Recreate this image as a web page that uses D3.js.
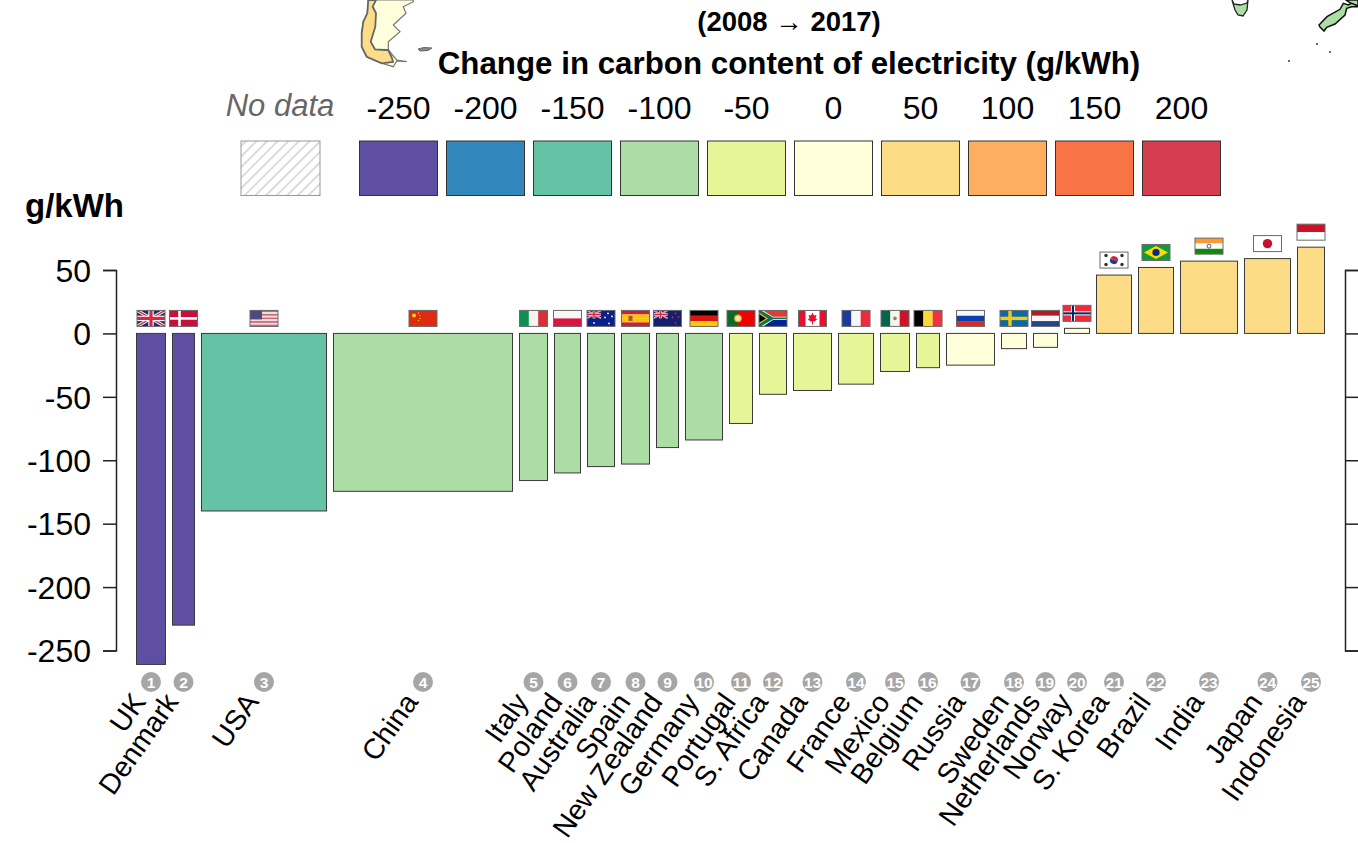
<!DOCTYPE html>
<html><head><meta charset="utf-8">
<script src="https://cdn.jsdelivr.net/npm/d3@7"></script>
<style>html,body{margin:0;background:#fff}svg{display:block}text{font-family:"Liberation Sans",Arial,sans-serif}</style>
</head><body><div id="c"></div>
<script>
const countries=["UK","Denmark","USA","China","Italy","Poland","Australia","Spain","New Zealand","Germany","Portugal","S. Africa","Canada","France","Mexico","Belgium","Russia","Sweden","Netherlands","Norway","S. Korea","Brazil","India","Japan","Indonesia"];
const changes=[-261,-230,-140,-124.5,-116,-110,-105,-103,-90,-84,-71,-48,-45,-40,-30,-27,-25,-12,-11,4,46,52,57,59,68];
const widths=[29,22,125,179,28,26,27,28,22,37,23,27,38,35,29,23,48,25,24,25,35,35,57,46,27];
const gapUnits=7;
const legendValues=[-250,-200,-150,-100,-50,0,50,100,150,200];
const legendColors=["#5e4fa2","#3288bd","#66c2a5","#abdda4","#e6f598","#ffffdc","#fddc87","#fdae61","#f87444","#d53e4f"];
const colorBreaks=[-225,-175,-125,-75,-25,25,75,125,175];
const yTicks=[50,0,-50,-100,-150,-200,-250];
const patagonia=[[368.3,0],[367.3,13.3],[363.3,21.7],[361.7,33.3],[361.7,46.7],[366.7,56.7],[381.7,63.3],[393.3,66.7],[396.7,61],[406.7,61.7],[396.7,60],[388.3,50],[388.3,41.7],[400,31.7],[393.3,25],[406,13.3],[403.3,6.7],[413.3,1.7],[413.3,0]];
const chile=[[368.3,0],[376,0],[372.7,6.7],[376,13.3],[375.3,26.7],[370.7,41.7],[375,49.3],[385,50],[388.3,50],[392,58],[393,62],[381.7,63.3],[366.7,56.7],[361.7,46.7],[361.7,33.3],[363.3,21.7],[367.3,13.3]];
const falklands=[[418,49],[424,47.5],[432,48],[428,50.5],[420,51]];
const tasmania=[[1232,0],[1234,4],[1240,5],[1247,3],[1248,0],[1247,10],[1243,16],[1238,15],[1235,10]];
const nzSouth=[[1319,25],[1327,16.7],[1340,9.3],[1343.3,3.3],[1348.3,5],[1351.7,3.3],[1358,6],[1358,6.7],[1351.7,6.7],[1346.7,8.3],[1345,15],[1335,24],[1326.7,27.3],[1324,31],[1320,27]];
const nzNorth=[[1346,0],[1358,0],[1358,6],[1352,4]];
const islets=[[1317,44],[1330,52],[1289,61]];

const W=1358,H=843;
const svg=d3.select("#c").append("svg").attr("width",W).attr("height",H).attr("viewBox",[0,0,W,H]);

// map fragments
const line=d3.line().curve(d3.curveLinearClosed);
svg.append("path").attr("d",line(patagonia)).attr("fill","#ffffdc").attr("stroke","#777").attr("stroke-width",1.2);
svg.append("path").attr("d",line(chile)).attr("fill","#fddc87").attr("stroke","#666").attr("stroke-width",1.8);
svg.append("path").attr("d",line(falklands)).attr("fill","#888").attr("stroke","#666").attr("stroke-width",1);
svg.append("path").attr("d",line(tasmania)).attr("fill","#abdda4").attr("stroke","#222").attr("stroke-width",1.3);
svg.append("path").attr("d",line(nzNorth)).attr("fill","#abdda4").attr("stroke","#111").attr("stroke-width",1.5);
svg.append("path").attr("d",line(nzSouth)).attr("fill","#abdda4").attr("stroke","#111").attr("stroke-width",1.5);
svg.selectAll(".islet").data(islets).join("circle").attr("class","islet").attr("cx",d=>d[0]).attr("cy",d=>d[1]).attr("r",.9).attr("fill","#222");

// titles
svg.append("text").attr("x",789).attr("y",31).attr("text-anchor","middle").attr("font-weight","bold").attr("font-size",27.5).text("(2008 → 2017)");
svg.append("text").attr("x",789).attr("y",74).attr("text-anchor","middle").attr("font-weight","bold").attr("font-size",31.3).text("Change in carbon content of electricity (g/kWh)");
svg.append("text").attr("x",25).attr("y",217).attr("font-weight","bold").attr("font-size",33).text("g/kWh");

// legend
const defs=svg.append("defs");
const hatch=defs.append("pattern").attr("id","hatch").attr("patternUnits","userSpaceOnUse").attr("width",7.5).attr("height",7.5).attr("patternTransform","rotate(-45)");
hatch.append("line").attr("x1",0).attr("x2",7.5).attr("y1",3.7).attr("y2",3.7).attr("stroke","#c4c4c4").attr("stroke-width",1.2);
svg.append("rect").attr("x",241).attr("y",141).attr("width",79).attr("height",54.5).attr("fill","url(#hatch)").attr("stroke","#999").attr("stroke-width",1);
svg.append("text").attr("x",280).attr("y",116).attr("text-anchor","middle").attr("font-style","italic").attr("font-size",31).attr("fill","#666").text("No data");
const lx=i=>359.5+i*87;
svg.selectAll(".sw").data(legendValues).join("rect").attr("class","sw").attr("x",(d,i)=>lx(i)).attr("y",141).attr("width",78).attr("height",54.5)
 .attr("fill",(d,i)=>legendColors[i]).attr("stroke","#333").attr("stroke-width",1);
svg.selectAll(".lt").data(legendValues).join("text").attr("class","lt").attr("x",(d,i)=>lx(i)+39).attr("y",119).attr("text-anchor","middle").attr("font-size",32).text(d=>d);

// scales
const total=d3.sum(widths)+gapUnits*(widths.length-1);
const x=d3.scaleLinear().domain([0,total]).range([136.5,136.5+total]);
const y=d3.scaleLinear().domain([50,-250]).range([270,650.5]);
const color=d3.scaleThreshold().domain(colorBreaks).range(legendColors);
let acc=0;
const rows=countries.map((c,i)=>{const r={name:c,v:changes[i],s:acc,e:acc+widths[i],i};acc+=widths[i]+gapUnits;return r;});

// axes
const axL=d3.axisLeft(y).tickValues(yTicks).tickSize(13).tickPadding(12).tickFormat(d=>String(d));
const gL=svg.append("g").attr("transform","translate(116,0)").call(axL);
const axR=d3.axisRight(y).tickValues(yTicks).tickSize(13).tickFormat("");
const gR=svg.append("g").attr("transform","translate(1345,0)").call(axR);
[gL,gR].forEach(g=>{g.selectAll("path,line").attr("stroke","#222").attr("stroke-width",1.5);g.selectAll("text").attr("font-size",32).attr("font-family",'"Liberation Sans"').attr("fill","#000").attr("dy","0.35em");});

// bars
svg.selectAll(".bar").data(rows).join("rect").attr("class","bar")
 .attr("x",d=>x(d.s)).attr("width",d=>x(d.e)-x(d.s))
 .attr("y",d=>Math.min(y(0),y(d.v))).attr("height",d=>Math.abs(y(d.v)-y(0)))
 .attr("fill",d=>color(d.v)).attr("stroke","#3a3a3a").attr("stroke-width",1);

// flags
const FW=28,FH=16;
function bands(g,cols,vert){const n=cols.length;cols.forEach((c,i)=>{vert?g.append("rect").attr("x",i*FW/n).attr("y",0).attr("width",FW/n+.1).attr("height",FH).attr("fill",c):g.append("rect").attr("x",0).attr("y",i*FH/n).attr("width",FW).attr("height",FH/n+.1).attr("fill",c);});}
function cross(g,cx,cy,w,c){g.append("rect").attr("x",cx-w/2).attr("y",0).attr("width",w).attr("height",FH).attr("fill",c);g.append("rect").attr("x",0).attr("y",cy-w/2).attr("width",FW).attr("height",w).attr("fill",c);}
function union(g,w,h){const u=g.append("g");u.append("rect").attr("width",w).attr("height",h).attr("fill","#1a2a78");
 [[0,0,w,h],[0,h,w,0]].forEach(l=>{u.append("line").attr("x1",l[0]).attr("y1",l[1]).attr("x2",l[2]).attr("y2",l[3]).attr("stroke","#fff").attr("stroke-width",h*.2);});
 [[0,0,w,h],[0,h,w,0]].forEach(l=>{u.append("line").attr("x1",l[0]).attr("y1",l[1]).attr("x2",l[2]).attr("y2",l[3]).attr("stroke","#d8263c").attr("stroke-width",h*.08);});
 u.append("rect").attr("x",w/2-h*.17).attr("width",h*.34).attr("height",h).attr("fill","#fff");u.append("rect").attr("y",h*.33).attr("width",w).attr("height",h*.34).attr("fill","#fff");
 u.append("rect").attr("x",w/2-h*.1).attr("width",h*.2).attr("height",h).attr("fill","#d8263c");u.append("rect").attr("y",h*.4).attr("width",w).attr("height",h*.2).attr("fill","#d8263c");}
function dots(g,pts,c,r){pts.forEach(p=>g.append("circle").attr("cx",p[0]).attr("cy",p[1]).attr("r",r).attr("fill",c));}
function poly(g,pts,c){g.append("polygon").attr("points",pts.join(" ")).attr("fill",c);}
const flagDraw={
 "UK":g=>union(g,FW,FH),
 "Denmark":g=>{bands(g,["#c8103a"]);cross(g,10,8,2.6,"#fff");},
 "USA":g=>{bands(g,["#c76a78","#f3dde0","#c76a78","#f3dde0","#c76a78","#f3dde0","#c76a78","#f3dde0","#c76a78"]);g.append("rect").attr("width",12).attr("height",9).attr("fill","#4d4a82");},
 "China":g=>{bands(g,["#de2a10"]);dots(g,[[5,5]],"#ffd21e",2);dots(g,[[9.5,2.5],[11,5],[11,8],[9.5,10]],"#ffd21e",.6);},
 "Italy":g=>bands(g,["#0f9050","#f4f4f0","#d6303a"],true),
 "Poland":g=>bands(g,["#f7f7f7","#dc1440"]),
 "Australia":g=>{bands(g,["#0a1e8c"]);union(g,14,8);dots(g,[[7,12.5],[21,3],[25,6],[18,7],[22,13]],"#fff",.9);},
 "Spain":g=>{bands(g,["#c8203a","#fcc400","#fcc400","#c8203a"]);g.append("rect").attr("x",7).attr("y",5.5).attr("width",4).attr("height",5).attr("fill","#b5502a");},
 "New Zealand":g=>{bands(g,["#14206e"]);union(g,14,8);dots(g,[[22,3],[25,6.5],[19,7],[22,12.5]],"#d8263c",.9);},
 "Germany":g=>bands(g,["#000","#dd1212","#ffcc00"]),
 "Portugal":g=>{g.append("rect").attr("width",11).attr("height",FH).attr("fill","#0a6a26");g.append("rect").attr("x",11).attr("width",17).attr("height",FH).attr("fill","#f00000");g.append("circle").attr("cx",11).attr("cy",8).attr("r",3.6).attr("fill","#f5e06a").attr("stroke","#b89a2a").attr("stroke-width",.8);g.append("circle").attr("cx",11).attr("cy",8).attr("r",1.6).attr("fill","#e8e8e8");},
 "S. Africa":g=>{bands(g,["#e03c31","#002395"]);poly(g,["0,0","4,0","14,6.4","28,6.4","28,9.6","14,9.6","4,16","0,16"],"#fff");poly(g,["0,0","2,0","14,7.2","28,7.2","28,8.8","14,8.8","2,16","0,16"],"#007a4d");poly(g,["0,2.2","9,8","0,13.8"],"#ffb81c");poly(g,["0,3.6","7,8","0,12.4"],"#000");},
 "Canada":g=>{bands(g,["#e8112d"]);g.append("rect").attr("x",7).attr("width",14).attr("height",FH).attr("fill","#fff");poly(g,["14,2","15.5,5","18,4.5","17,8","19,8.5","16,11","14.5,11","14.5,14","13.5,14","13.5,11","12,11","9,8.5","11,8","10,4.5","12.5,5"],"#e8112d");},
 "France":g=>bands(g,["#1e3a9a","#f7f7f7","#ee2b3b"],true),
 "Mexico":g=>{bands(g,["#006847","#f5f5f0","#ce1126"],true);dots(g,[[14,8]],"#a08050",1.8);},
 "Belgium":g=>bands(g,["#000","#fbd837","#ef3340"],true),
 "Russia":g=>bands(g,["#f7f7f7","#0c3fb0","#d92b20"]),
 "Sweden":g=>{bands(g,["#0a6aa6"]);cross(g,10,8,3.4,"#fcc80c");},
 "Netherlands":g=>bands(g,["#ae1c28","#f7f7f7","#21468b"]),
 "Norway":g=>{bands(g,["#ef2b3b"]);cross(g,10,8,4,"#fff");cross(g,10,8,2,"#002868");},
 "S. Korea":g=>{bands(g,["#fff"]);g.append("path").attr("d",d3.arc()({innerRadius:0,outerRadius:4,startAngle:-1.2,endAngle:1.94})).attr("transform","translate(14,8)").attr("fill","#d5213a");g.append("path").attr("d",d3.arc()({innerRadius:0,outerRadius:4,startAngle:1.94,endAngle:5.08})).attr("transform","translate(14,8)").attr("fill","#173e8c");dots(g,[[6,3.5],[22,3.5],[6,12.5],[22,12.5]],"#333",1.7);},
 "Brazil":g=>{bands(g,["#119a3c"]);poly(g,["14,1.5","26,8","14,14.5","2,8"],"#fbdc00");dots(g,[[14,8]],"#0d2a78",3.6);},
 "India":g=>{bands(g,["#ff9933","#fff","#138808"]);g.append("circle").attr("cx",14).attr("cy",8).attr("r",2).attr("fill","none").attr("stroke","#2a2a8a").attr("stroke-width",.8);},
 "Japan":g=>{bands(g,["#fff"]);dots(g,[[14,8]],"#c8102e",4.7);},
 "Indonesia":g=>bands(g,["#ce1126","#fff"])
};
const flags=svg.selectAll(".flag").data(rows).join("g").attr("class","flag")
 .attr("transform",d=>`translate(${(x(d.s)+x(d.e))/2-FW/2},${Math.min(y(0),y(d.v))-23})`);
flags.each(function(d){const g=d3.select(this);const inner=g.append("g");flagDraw[d.name](inner);g.append("rect").attr("width",FW).attr("height",FH).attr("fill","none").attr("stroke","#6a6a6a").attr("stroke-width",1);});

// number badges
const lab=svg.selectAll(".lab").data(rows).join("g").attr("class","lab").attr("transform",d=>`translate(${(x(d.s)+x(d.e))/2},682)`);
lab.append("circle").attr("r",10).attr("fill","#a6a6a6");
lab.append("text").attr("text-anchor","middle").attr("dy","0.36em").attr("font-size",15.5).attr("font-weight","bold").attr("fill","#fff").text(d=>d.i+1);

// country labels
svg.selectAll(".name").data(rows).join("text").attr("class","name").attr("text-anchor","end").attr("font-size",28.5)
 .attr("transform",d=>`translate(${(x(d.s)+x(d.e))/2-4},702) rotate(-55)`).text(d=>d.name);
</script></body></html>
